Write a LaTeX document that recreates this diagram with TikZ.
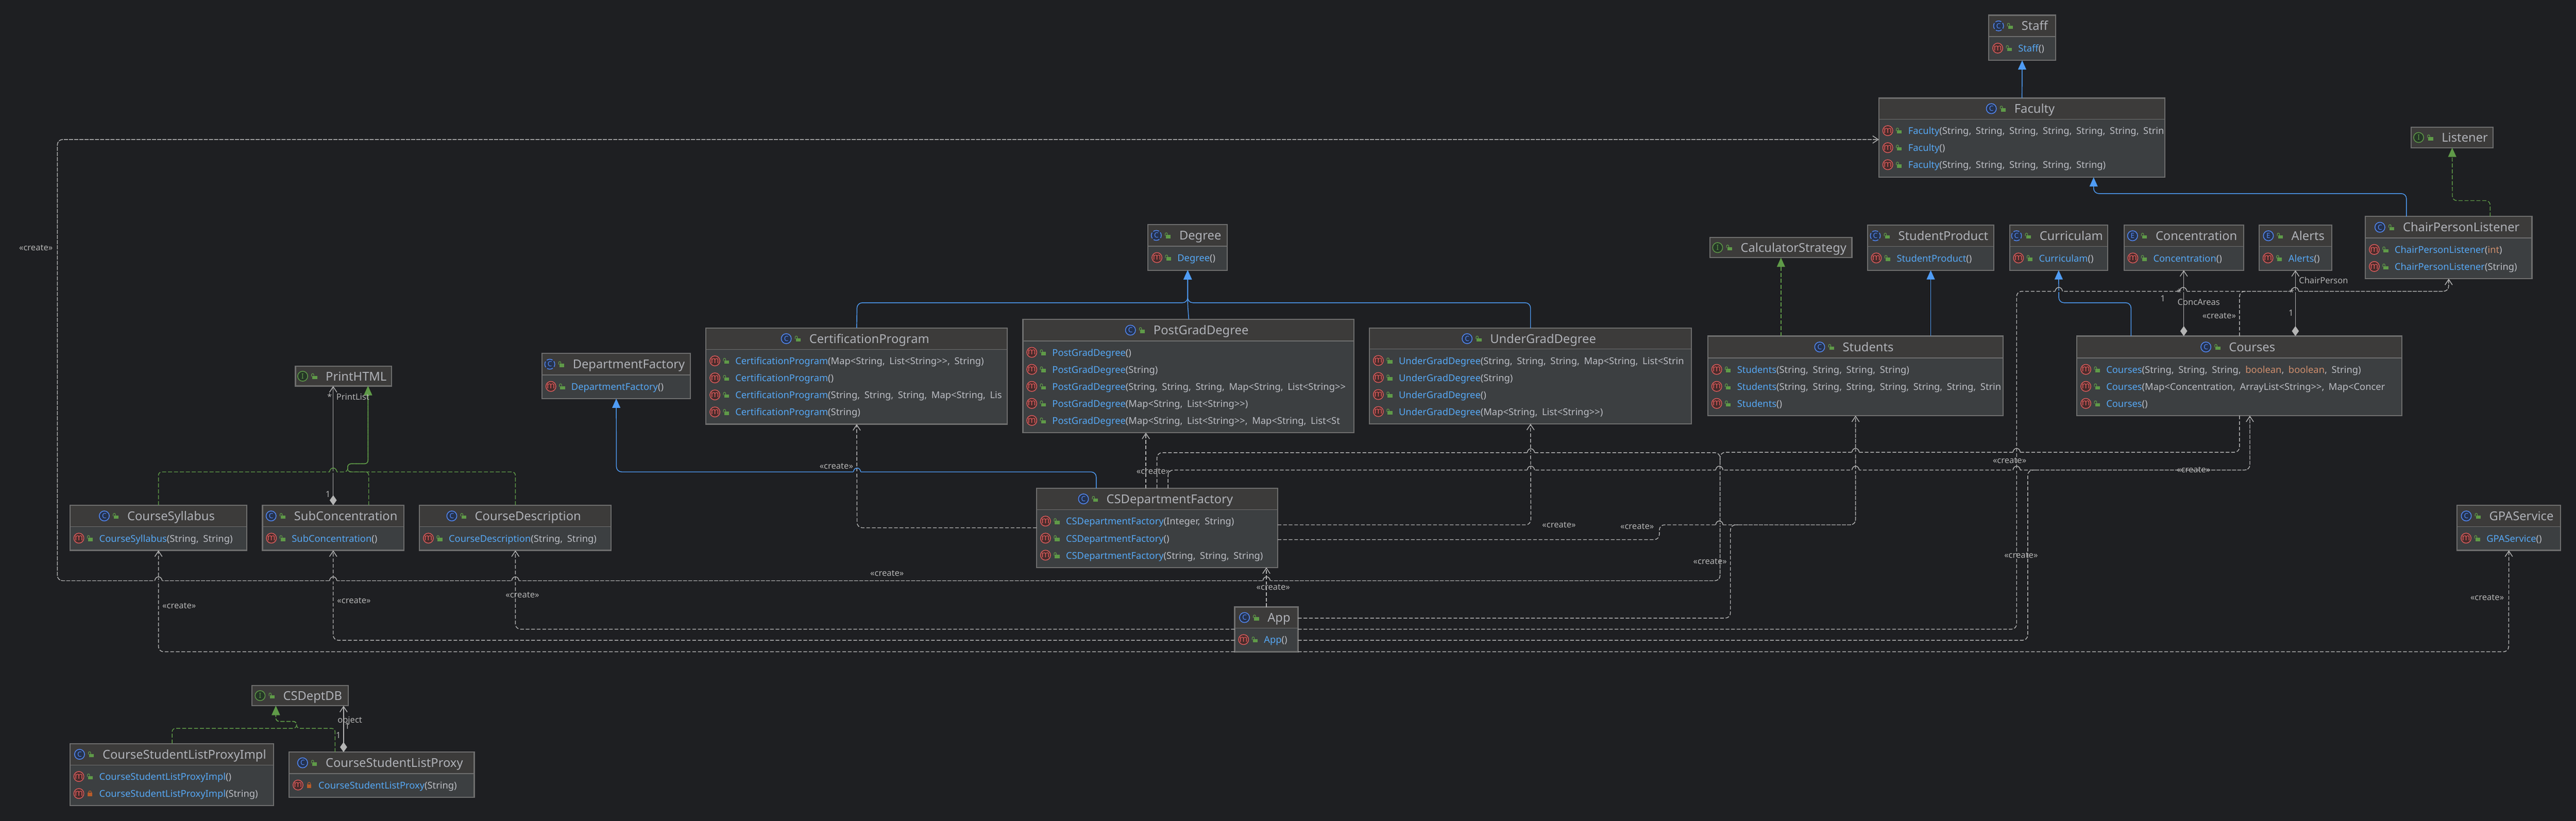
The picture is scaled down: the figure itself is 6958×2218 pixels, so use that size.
\documentclass[tikz,border=0pt]{standalone}
\usepackage{fontspec}
\usepackage{tikz}
\usetikzlibrary{arrows.meta, positioning}
\newfontfamily\umlfont[WordSpace=1.8]{Noto Sans}

\definecolor{umlbg}{HTML}{1E1F22}
\definecolor{umlhead}{HTML}{3C3B3A}
\definecolor{umlbody}{HTML}{3C3F41}
\definecolor{umlframe}{HTML}{6E6E6E}
\definecolor{umltext}{HTML}{BCBEC4}
\definecolor{umltitle}{HTML}{B0B2B8}
\definecolor{umlname}{HTML}{56A8F5}
\definecolor{umlkey}{HTML}{CF8E6D}
\definecolor{umlgray}{HTML}{B4B4B4}
\definecolor{umlblue}{HTML}{4F9CF5}
\definecolor{umlgreen}{HTML}{5F9A48}
\definecolor{umlorange}{HTML}{B85C2A}
\definecolor{iconblue}{HTML}{548AF7}
\definecolor{iconbluefill}{HTML}{25324D}
\definecolor{icongreenfill}{HTML}{253627}
\definecolor{iconred}{HTML}{DB5C5C}
\definecolor{iconredfill}{HTML}{472B2B}

\newcommand{\mname}[1]{\textcolor{umlname}{#1}}
\newcommand{\kwd}[1]{\textcolor{umlkey}{#1}}

\tikzset{
  classbox/.style={rectangle, draw=umlframe, line width=3pt, fill=umlbody, inner sep=0pt, outer sep=0pt, anchor=north west},
  titletext/.style={inner sep=0pt, text=umltitle, text height=30pt, text depth=6pt, font=\umlfont\fontsize{33}{38}\selectfont},
  rowtext/.style={anchor=west, inner sep=0pt, text=umltext, text height=24pt, text depth=6pt, font=\umlfont\fontsize{25.5}{30}\selectfont},
  umllabel/.style={inner sep=0pt, text=umlgray, font=\umlfont\fontsize{23}{27}\selectfont},
  iconbase/.style={circle, minimum size=27pt, inner sep=0pt, line width=2pt, font=\umlfont\fontsize{19}{19}\selectfont},
  iconc/.style={iconbase, draw=iconblue, fill=iconbluefill, text=iconblue, node contents=C},
  icona/.style={iconc, dash pattern=on 16.5pt off 4.7pt, dash phase=8pt},
  icone/.style={iconbase, draw=iconblue, fill=iconbluefill, text=iconblue, node contents=E},
  iconi/.style={iconbase, draw=umlgreen, fill=icongreenfill, text=umlgreen, node contents=I},
  iconm/.style={iconbase, draw=iconred, fill=iconredfill, text=iconred, font=\umlfont\fontsize{24}{24}\selectfont},
  lockpub/.pic={
    \fill[umlgreen] (-5,-1) rectangle (8,8);
    \draw[umlgreen, line width=1.6pt] (-7,1) -- (-7,-4) .. controls (-7,-8) and (-1,-8) .. (-1,-4) -- (-1,-1);
  },
  lockpri/.pic={
    \fill[umlorange] (-6,-2) rectangle (6,8);
    \draw[umlorange, line width=1.6pt] (-4,-2) .. controls (-4,-9) and (4,-9) .. (4,-2);
  },
  umlbranch/.style={draw=umlgray, line width=2pt, dash pattern=on 10pt off 5pt, rounded corners=14pt},
  umlcreate/.style={umlbranch, -{Straight Barb[length=15pt,width=20pt]}},
  umltail/.style={umlcreate, dash pattern=on 11pt off 3pt},
  umlinherit/.style={draw=umlblue, line width=2pt, rounded corners=14pt, -{Triangle[length=25pt,width=22pt]}},
  umlimpl/.style={draw=umlgreen, line width=2pt, dash pattern=on 11pt off 5pt, rounded corners=12pt, -{Triangle[length=25pt,width=22pt,fill=umlgreen]}},
  umlcomp/.style={draw=umlgray, line width=2pt, {Diamond[length=27pt,width=19pt,fill=umlgray]}-{Straight Barb[length=15pt,width=20pt]}},
}

% box with header: name, icon style, title, left, top, right, header bottom, bottom
\newcommand{\umlclass}[8]{%
  \node[classbox, minimum width={#6-#4}, minimum height={#8-#5}] (#1) at (#4,#5) {};
  \fill[umlhead] (#4,#5) rectangle (#6,#7);
  \draw[umlframe, line width=2pt] (#4,#7) -- (#6,#7);
  \draw[umlframe, line width=3pt] (#1.north west) rectangle (#1.south east);
  \node[titletext] (#1-t) at ({(#4+#6)/2+34},{(#5+#7)/2}) {#3};
  \node (#1-i) [#2, left=47.5pt of #1-t];
  \pic at ([xshift=-31pt]#1-t.west) {lockpub};
}
% rows of a box: name, left, header bottom, list of lock/text
\newcommand{\umlrows}[4]{%
  \begin{scope}
    \clip (#1.north west) rectangle (#1.south east);
    \foreach \lk/\txt [count=\i] in {#4} {
      \node[rowtext] (#1-r\i) at ({#2+79},{#3+32+46*(\i-1)}) {\txt};
      \node[iconm] (#1-m\i) at ({#2+24},{#3+31+46*(\i-1)}) {m};
      \pic at ({#2+54},{#3+31+46*(\i-1)}) {lock\lk};
    }
  \end{scope}
}

\begin{document}
\begin{tikzpicture}[x=1pt, y=-1pt]

        \fill[umlbg] (0,0) rectangle (6958,2218);
        \useasboundingbox (0,0) rectangle (6958,2218);

        % Top right
        \umlclass{staff}{icona}{Staff}{5372}{41}{5552}{99}{163}
        \umlrows{staff}{5372}{99}{pub/{\mname{Staff}()}}
        \umlclass{faculty}{iconc}{Faculty}{5075}{265}{5848}{322}{479}
        \umlrows{faculty}{5075}{322}{
          pub/{\mname{Faculty}(String, String, String, String, String, String, Strin},
          pub/{\mname{Faculty}()},
          pub/{\mname{Faculty}(String, String, String, String, String)}}
        \umlclass{listener}{iconi}{Listener}{6513}{344}{6734}{399}{399}
        \umlclass{chairlistener}{iconc}{ChairPersonListener}{6389}{585}{6839}{643}{753}
        \umlrows{chairlistener}{6389}{643}{
          pub/{\mname{ChairPersonListener}(\kwd{int})},
          pub/{\mname{ChairPersonListener}(String)}}

        % Row of small boxes
        \umlclass{calcstrategy}{iconi}{CalculatorStrategy}{4619}{642}{5002}{696}{696}
        \umlclass{studentproduct}{icona}{StudentProduct}{5044}{608}{5386}{666}{730}
        \umlrows{studentproduct}{5044}{666}{pub/{\mname{StudentProduct}()}}
        \umlclass{curriculam}{icona}{Curriculam}{5428}{608}{5693}{666}{730}
        \umlrows{curriculam}{5428}{666}{pub/{\mname{Curriculam}()}}
        \umlclass{concentration}{icone}{Concentration}{5737}{608}{6060}{666}{730}
        \umlrows{concentration}{5737}{666}{pub/{\mname{Concentration}()}}
        \umlclass{alerts}{icone}{Alerts}{6102}{608}{6298}{666}{730}
        \umlrows{alerts}{6102}{666}{pub/{\mname{Alerts}()}}

        \umlclass{students}{iconc}{Students}{4613}{908}{5411}{967}{1123}
        \umlrows{students}{4613}{967}{
          pub/{\mname{Students}(String, String, String, String)},
          pub/{\mname{Students}(String, String, String, String, String, String, Strin},
          pub/{\mname{Students}()}}
        \umlclass{courses}{iconc}{Courses}{5610}{908}{6488}{967}{1123}
        \umlrows{courses}{5610}{967}{
          pub/{\mname{Courses}(String, String, String, \kwd{boolean}, \kwd{boolean}, String)},
          pub/{\mname{Courses}(Map<Concentration, ArrayList<String>>, Map<Concer},
          pub/{\mname{Courses}()}}
        \umlclass{gpaservice}{iconc}{GPAService}{6637}{1365}{6916}{1423}{1487}
        \umlrows{gpaservice}{6637}{1423}{pub/{\mname{GPAService}()}}

        % Degrees
        \umlclass{degree}{icona}{Degree}{3101}{607}{3315}{665}{730}
        \umlrows{degree}{3101}{665}{pub/{\mname{Degree}()}}
        \umlclass{certprogram}{iconc}{CertificationProgram}{1907}{886}{2721}{944}{1146}
        \umlrows{certprogram}{1907}{944}{
          pub/{\mname{CertificationProgram}(Map<String, List<String>>, String)},
          pub/{\mname{CertificationProgram}()},
          pub/{\mname{CertificationProgram}(String, String, String, Map<String, Lis},
          pub/{\mname{CertificationProgram}(String)}}
        \umlclass{postgrad}{iconc}{PostGradDegree}{2763}{863}{3657}{921}{1169}
        \umlrows{postgrad}{2763}{921}{
          pub/{\mname{PostGradDegree}()},
          pub/{\mname{PostGradDegree}(String)},
          pub/{\mname{PostGradDegree}(String, String, String, Map<String, List<String>>},
          pub/{\mname{PostGradDegree}(Map<String, List<String>>)},
          pub/{\mname{PostGradDegree}(Map<String, List<String>>, Map<String, List<St}}
        \umlclass{undergrad}{iconc}{UnderGradDegree}{3699}{887}{4569}{943}{1145}
        \umlrows{undergrad}{3699}{943}{
          pub/{\mname{UnderGradDegree}(String, String, String, Map<String, List<Strin},
          pub/{\mname{UnderGradDegree}(String)},
          pub/{\mname{UnderGradDegree}()},
          pub/{\mname{UnderGradDegree}(Map<String, List<String>>)}}

        % Factories and app
        \umlclass{deptfactory}{icona}{DepartmentFactory}{1464}{955}{1865}{1013}{1077}
        \umlrows{deptfactory}{1464}{1013}{pub/{\mname{DepartmentFactory}()}}
        \umlclass{csfactory}{iconc}{CSDepartmentFactory}{2800}{1319}{3451}{1377}{1533}
        \umlrows{csfactory}{2800}{1377}{
          pub/{\mname{CSDepartmentFactory}(Integer, String)},
          pub/{\mname{CSDepartmentFactory}()},
          pub/{\mname{CSDepartmentFactory}(String, String, String)}}
        \umlclass{app}{iconc}{App}{3335}{1640}{3506}{1697}{1761}
        \umlrows{app}{3335}{1697}{pub/{\mname{App}()}}

        % Left side
        \umlclass{printhtml}{iconi}{PrintHTML}{798}{990}{1058}{1043}{1043}
        \umlclass{syllabus}{iconc}{CourseSyllabus}{189}{1365}{667}{1423}{1487}
        \umlrows{syllabus}{189}{1423}{pub/{\mname{CourseSyllabus}(String, String)}}
        \umlclass{subconc}{iconc}{SubConcentration}{709}{1365}{1091}{1423}{1487}
        \umlrows{subconc}{709}{1423}{pub/{\mname{SubConcentration}()}}
        \umlclass{coursedesc}{iconc}{CourseDescription}{1133}{1365}{1651}{1423}{1487}
        \umlrows{coursedesc}{1133}{1423}{pub/{\mname{CourseDescription}(String, String)}}

        % Proxy group
        \umlclass{csdeptdb}{iconi}{CSDeptDB}{680}{1852}{941}{1907}{1907}
        \umlclass{proxyimpl}{iconc}{CourseStudentListProxyImpl}{189}{2009}{739}{2067}{2176}
        \umlrows{proxyimpl}{189}{2067}{
          pub/{\mname{CourseStudentListProxyImpl}()},
          pri/{\mname{CourseStudentListProxyImpl}(String)}}
        \umlclass{listproxy}{iconc}{CourseStudentListProxy}{781}{2032}{1281}{2090}{2154}
        \umlrows{listproxy}{781}{2090}{pri/{\mname{CourseStudentListProxy}(String)}}

        % Inheritance
        \draw[umlinherit] (faculty.north) -- (staff.south);
        \draw[umlinherit] (chairlistener.north -| 6500,0) -- (6500,523) -- (5655,523) -- (faculty.south -| 5655,0);
        \draw[umlinherit] (students.north -| studentproduct.south) -- (studentproduct.south);
        \draw[umlinherit] (courses.north -| 5756,0) -- (5756,818) -- (5561,818) -- (curriculam.south);
        \draw[umlinherit] (certprogram.north) -- (2315,818) -- (3208,818) -- (degree.south);
        \draw[umlinherit] (undergrad.north) -- (4134,818) -- (3208,818) -- (degree.south);
        \draw[umlinherit] (postgrad.north -| 3211,0) -- (3208,825) -- (degree.south);
        \draw[umlinherit] (csfactory.north -| 2961,0) -- (2961,1275) -- (1665,1275) -- (deptfactory.south);

        % Interfaces
        \draw[umlimpl] (chairlistener.north -| 6726,0) -- (6726,542) -- (6624,542) -- (listener.south);
        \draw[umlimpl] (students.north -| calcstrategy.south) -- (calcstrategy.south);
        \draw[umlimpl, rounded corners=9pt] (syllabus.north) -- (428,1275) -- (939,1275) -- (939,1253) -- (994,1253) -- (printhtml.south -| 994,0);
        \draw[umlimpl, rounded corners=9pt] (coursedesc.north) -- (1392,1275) -- (939,1275) -- (939,1253) -- (994,1253) -- (printhtml.south -| 994,0);
        \draw[umlimpl, rounded corners=9pt] (subconc.north -| 996,0) -- (996,1275) -- (939,1275) -- (939,1253) -- (994,1253) -- (printhtml.south -| 994,0);
        \draw[umlimpl, rounded corners=9pt] (proxyimpl.north -| 465,0) -- (465,1968) -- (801,1968) -- (801,1949) -- (745,1949) -- (csdeptdb.south -| 745,0);
        \draw[umlimpl, rounded corners=9pt] (listproxy.north -| 905,0) -- (905,1968) -- (801,1968) -- (801,1949) -- (745,1949) -- (csdeptdb.south -| 745,0);

        % Fields
        \draw[umlcomp] (courses.north -| concentration.south) -- (concentration.south);
        \draw[umlcomp] (courses.north -| alerts.south) -- (alerts.south);
        \draw[umlcomp] (subconc.north) -- (printhtml.south -| subconc.north);
        \draw[umlcomp] (listproxy.north -| 928,0) -- (csdeptdb.south -| 928,0);

        % Where two lines run on together
        \coordinate (facultyjoin) at (4646,1245);
        \coordinate (studentsjoin) at (4695,1418);
        \coordinate (coursesjoin) at (5497,1270);
        \coordinate (chairjoin) at (6069,787);
        \draw[umltail] (facultyjoin) -- (4646,1569) -- (155,1569) -- (155,377) -- (faculty.west |- 0,377);
        \draw[umltail] (studentsjoin) -- (5012,1418) -- (students.south);
        \draw[umltail] (coursesjoin) -- (6077,1270) -- (courses.south -| 6077,0);
        \draw[umltail] (chairjoin) -- (6614,787) -- (chairlistener.south);

        % Created by the factory
        \draw[umlcreate] (csfactory.north -| 3095,0) -- (postgrad.south -| 3095,0);
        \draw[umlbranch] (csfactory.north -| 3125,0) -- (3125,1223) -- (4646,1223) -- (facultyjoin);
        \draw[umlbranch] (csfactory.north -| 3155,0) -- (3155,1270) -- (coursesjoin);
        \draw[umlcreate] (csfactory.west |- 0,1426) -- (2315,1426) -- (certprogram.south);
        \draw[umlcreate] (csfactory.east |- 0,1418) -- (4135,1418) -- (undergrad.south);
        \draw[umlbranch] (csfactory.east |- 0,1458) -- (4482,1458) -- (4482,1418) -- (studentsjoin);

        % Created by the courses
        \draw[umlbranch] (courses.south -| 6049,0) -- (6049,1222) -- (4646,1222) -- (facultyjoin);
        \draw[umlbranch] (courses.north -| 6049,0) -- (6049,787) -- (chairjoin);

        % Created by the app
        \draw[umlcreate] (app.north) -- (csfactory.south -| app.north);
        \draw[umlbranch] (app.east |- 0,1670) -- (4674,1670) -- (4674,1418) -- (studentsjoin);
        \draw[umlbranch] (app.east |- 0,1700) -- (5447,1700) -- (5447,787) -- (chairjoin);
        \draw[umlbranch] (app.east |- 0,1730) -- (5477,1730) -- (5477,1270) -- (coursesjoin);
        \draw[umlcreate] (app.south east) -- (6776,1761) -- (gpaservice.south);
        \draw[umlcreate] (app.west |- 0,1700) -- (1392,1700) -- (coursedesc.south);
        \draw[umlcreate] (app.west |- 0,1730) -- (900,1730) -- (subconc.south);
        \draw[umlcreate] (app.south west) -- (428,1761) -- (syllabus.south);

        % Line jumps
        \foreach \bx/\by in {428/1569, 900/1569, 1392/1569, 3421/1569, 4135/1223, 4135/1270, 4644/1270, 4644/1418,
                             5012/1222, 5447/1222, 5012/1270, 5447/1270, 5561/787, 5897/787, 6199/787} {
          \draw[umlbg, line width=4pt] (\bx-10,\by) -- (\bx+10,\by);
          \draw[umlgray, line width=2pt] (\bx-10,\by) .. controls (\bx-8,\by-14) and (\bx+8,\by-14) .. (\bx+10,\by);
        }
        \draw[umlbg, line width=4pt] (2305,1275) -- (2325,1275);
        \draw[umlblue, line width=2pt] (2305,1275) .. controls (2307,1261) and (2323,1261) .. (2325,1275);
        \draw[umlbg, line width=4pt] (890,1275) -- (910,1275);
        \draw[umlgreen, line width=2pt] (890,1275) .. controls (892,1261) and (908,1261) .. (910,1275);

        % Stereotypes
        \node[umllabel] (create-a) at (97,670) {«create»};
        \node[umllabel] (create-b) at (2396,1549) {«create»};
        \node[umllabel] (create-c) at (484,1637) {«create»};
        \node[umllabel] (create-d) at (956,1623) {«create»};
        \node[umllabel] (create-e) at (1411,1607) {«create»};
        \node[umllabel] (create-f) at (2259,1260) {«create»};
        \node[umllabel] (create-g) at (3115,1273) {«create»};
        \node[umllabel] (create-h) at (3439,1586) {«create»};
        \node[umllabel] (create-i) at (4211,1418) {«create»};
        \node[umllabel] (create-j) at (4422,1423) {«create»};
        \node[umllabel] (create-k) at (4619,1517) {«create»};
        \node[umllabel] (create-l) at (5428,1244) {«create»};
        \node[umllabel] (create-m) at (5925,1270) {«create»};
        \node[umllabel] (create-n) at (5459,1500) {«create»};
        \node[umllabel] (create-o) at (6718,1614) {«create»};
        \node[umllabel] (create-p) at (5994,853) {«create»};

        % Field labels
        \node[umllabel] (conc-star) at (5886,789) {*};
        \node[umllabel] (conc-one) at (5842,806) {1};
        \node[umllabel] (conc-name) at (5939,816) {ConcAreas};
        \node[umllabel] (chair-star) at (6190,789) {*};
        \node[umllabel] (chair-one) at (6188,846) {1};
        \node[umllabel] (chair-name) at (6276,758) {ChairPerson};
        \node[umllabel] (print-star) at (890,1072) {*};
        \node[umllabel] (print-name) at (953,1072) {PrintList};
        \node[umllabel] (print-one) at (886,1335) {1};
        \node[umllabel] (db-name) at (945,1947) {object};
        \node[umllabel] (db-one) at (938,1962) {1};
        \node[umllabel] (db-two) at (914,1986) {1};
\end{tikzpicture}
\end{document}
